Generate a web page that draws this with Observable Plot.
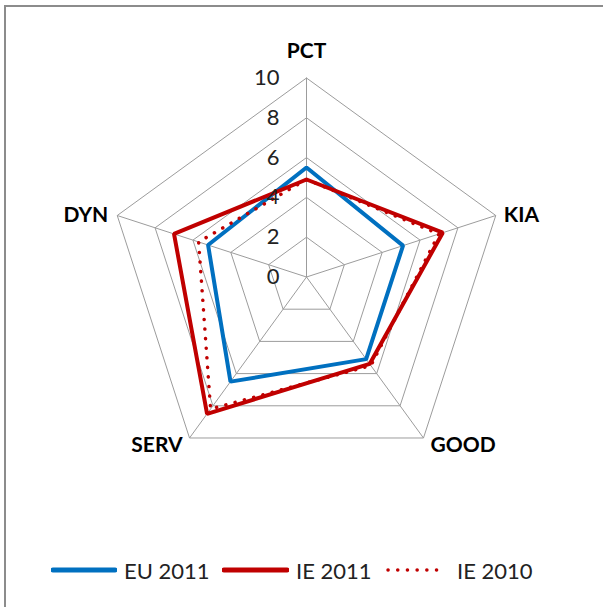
<!DOCTYPE html>
<html>
<head>
<meta charset="utf-8">
<script src="https://cdn.jsdelivr.net/npm/d3@7"></script>
<script src="https://cdn.jsdelivr.net/npm/@observablehq/plot@0.6"></script>
<style>
  html, body { margin: 0; padding: 0; background: #fff; }
  #wrap { position: relative; width: 603px; height: 607px; overflow: hidden; font-family: Lato, "Liberation Sans", sans-serif; }
  #frame { position: absolute; left: 4px; top: 5px; width: 600px; height: 602px; border-top: 2px solid #8c8c8c; border-left: 2px solid #8c8c8c; box-sizing: border-box; }
  #chart { position: absolute; left: 0; top: 0; }
  .leg { position: absolute; top: 556px; height: 28px; display: flex; align-items: center; font-size: 22px; color: #222; white-space: nowrap; }
  .leg svg { display: block; }
</style>
</head>
<body>
<div id="wrap">
  <div id="frame"></div>
  <div id="chart"></div>
  <div id="legend"></div>
</div>
<script>
const axes = ["PCT", "KIA", "GOOD", "SERV", "DYN"];
const eu2011 = [5.5, 5.1, 5.1, 6.5, 5.2];
const ie2011 = [4.9, 7.2, 5.4, 8.5, 7.0];
const ie2010 = [4.9, 7.0, 5.5, 8.2, 5.7];
const ticks = [0, 2, 4, 6, 8, 10];
const seriesNames = ["EU 2011", "IE 2011", "IE 2010"];

const W = 603, H = 545, cx = 306, cy = 276.5, k = 19.9;
const n = axes.length;
const ang = i => i * 2 * Math.PI / n;
const px = (i, v) => v * Math.sin(ang(i));
const py = (i, v) => v * Math.cos(ang(i));

const grid = [];
ticks.filter(t => t > 0).forEach(t => {
  for (let i = 0; i <= n; i++) grid.push({t, x: px(i % n, t), y: py(i % n, t)});
});
const spokes = axes.map((a, i) => ({x: px(i, 10), y: py(i, 10)}));

const seriesVals = [eu2011, ie2011, ie2010];
const series = seriesNames.map((s, j) => seriesVals[j].map((v, i) => ({series: s, x: px(i, v), y: py(i, v)})));

const labelOff = [
  {dx: 0, dy: -27, anchor: "middle"},
  {dx: 8, dy: 0, anchor: "start"},
  {dx: 7, dy: 7, anchor: "start"},
  {dx: -7, dy: 7, anchor: "end"},
  {dx: -9, dy: 0, anchor: "end"}
];

const colors = ["#0070C0", "#C00000", "#C00000"];

const marks = [
  Plot.line(grid, {x: "x", y: "y", z: "t", stroke: "#9c9c9c", strokeWidth: 1}),
  Plot.link(spokes, {x1: 0, y1: 0, x2: "x", y2: "y", stroke: "#9c9c9c", strokeWidth: 1}),
  Plot.line(series[0], {x: "x", y: "y", curve: "linear-closed", stroke: colors[0], strokeWidth: 4, strokeLinejoin: "miter"}),
  Plot.line(series[1], {x: "x", y: "y", curve: "linear-closed", stroke: colors[1], strokeWidth: 4, strokeLinejoin: "miter"}),
  Plot.line(series[2], {x: "x", y: "y", curve: "linear-closed", stroke: colors[2], strokeWidth: 3.5, strokeDasharray: "0.1 9.5", strokeLinecap: "round"}),
  Plot.text(ticks, {x: 0, y: d => d, text: d => String(d), dx: -27, textAnchor: "end", fontSize: 22, fill: "#222"})
];
axes.forEach((a, i) => {
  const o = labelOff[i];
  marks.push(Plot.text([a], {x: px(i, 10), y: py(i, 10), text: d => d, dx: o.dx, dy: o.dy, textAnchor: o.anchor, fontSize: 21, fontWeight: "bold", fill: "#000"}));
});

const chart = Plot.plot({
  width: W, height: H,
  marginTop: 0, marginRight: 0, marginBottom: 0, marginLeft: 0,
  style: {background: "transparent", fontFamily: "Lato, 'Liberation Sans', sans-serif", overflow: "visible"},
  x: {domain: [-cx / k, (W - cx) / k], range: [0, W], axis: null},
  y: {domain: [-(H - cy) / k, cy / k], range: [H, 0], axis: null},
  marks
});
document.getElementById("chart").appendChild(chart);

// legend
const legPos = [
  {sw: 51, text: 124},
  {sw: 222, text: 296},
  {sw: 386, text: 457}
];
const swW = [66, 67, 60];
const legend = document.getElementById("legend");
seriesNames.forEach((s, j) => {
  const d = document.createElement("div");
  d.className = "leg";
  d.style.left = legPos[j].sw + "px";
  const w = swW[j];
  const dash = j === 2 ? 'stroke-dasharray="0.1 9.6" stroke-linecap="round" stroke-width="3.5"' : 'stroke-linecap="round" stroke-width="5"';
  d.innerHTML = `<svg width="${w}" height="14"><line x1="2" y1="7" x2="${w - 2}" y2="7" stroke="${colors[j]}" ${dash}/></svg>`;
  const t = document.createElement("span");
  t.textContent = s;
  t.style.position = "absolute";
  t.style.left = (legPos[j].text - legPos[j].sw) + "px";
  d.appendChild(t);
  legend.appendChild(d);
});
</script>
</body>
</html>
